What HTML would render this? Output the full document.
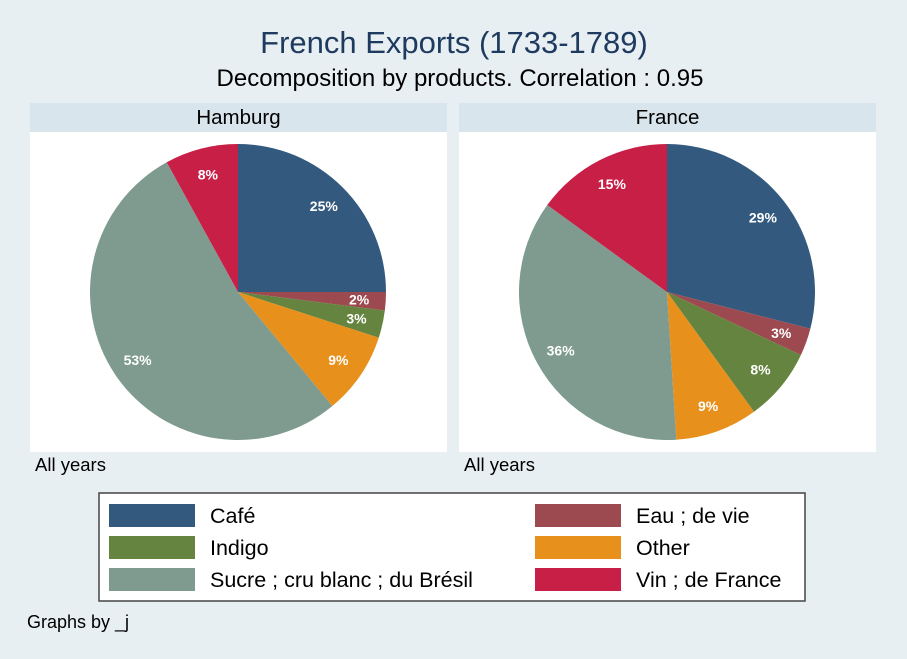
<!DOCTYPE html>
<html><head><meta charset="utf-8"><style>
body{margin:0;background:#e8eff2;}
svg{display:block;font-family:"Liberation Sans",Arial,sans-serif;}
</style></head><body>
<svg id="c" width="907" height="659" viewBox="0 0 907 659">
<rect width="907" height="659" fill="#e8eff2"/>
<text x="454" y="53" text-anchor="middle" font-size="31" fill="#1e3a5f">French Exports (1733-1789)</text>
<text x="460" y="86" text-anchor="middle" font-size="24" fill="#000">Decomposition by products. Correlation : 0.95</text>
<g id="panels"></g>
<g>
<rect x="99" y="493" width="706" height="108" fill="#fff" stroke="#444" stroke-width="1.5"/>
<g id="leg"></g>
</g>
<text x="27" y="628" font-size="18" fill="#000">Graphs by _j</text>
</svg>
<script>
const categories=["Café","Eau ; de vie","Indigo","Other","Sucre ; cru blanc ; du Brésil","Vin ; de France"];
const colors=["#335a7e","#9c4a50","#65843f","#e8901c","#7f9b8f","#c81f47"];
const panelNames=["Hamburg","France"];
const hamburgValues=[25,2,3,9,53,8];
const franceValues=[29,3,8,9,36,15];
const series=[hamburgValues,franceValues];
const NS="http://www.w3.org/2000/svg";
function mk(t,a,p){const e=document.createElementNS(NS,t);for(const k in a)e.setAttribute(k,a[k]);p.appendChild(e);return e;}
const panels=document.getElementById('panels');
const px=[30,459];
series.forEach((vals,pi)=>{
  const g=mk('g',{},panels);
  
  
  const x0=px[pi],w=417;
  const h=mk('rect',{x:x0,y:103,width:w,height:29,fill:'#d9e5ec'},g);
  
  
  const ht=mk('text',{x:x0+w/2,y:124,'text-anchor':'middle','font-size':20.5,fill:'#000'},g);ht.textContent=panelNames[pi];
  
  
  const pr=mk('rect',{x:x0,y:132,width:w,height:320,fill:'#fff'},g);
  
  
  const ay=mk('text',{x:x0+5,y:471,'font-size':18.5,fill:'#000'},g);ay.textContent='All years';
  
  
  const cx=x0+208,cy=292,r=148;
  const tot=vals.reduce((a,b)=>a+b,0);
  let a=0;
  vals.forEach((v,i)=>{
    const a0=a/tot*2*Math.PI,a1=(a+v)/tot*2*Math.PI;a+=v;
    const p0=[cx+r*Math.sin(a0),cy-r*Math.cos(a0)],p1=[cx+r*Math.sin(a1),cy-r*Math.cos(a1)];
    const s=mk('path',{d:`M${cx},${cy}L${p0[0]},${p0[1]}A${r},${r} 0 ${a1-a0>Math.PI?1:0} 1 ${p1[0]},${p1[1]}Z`,fill:colors[i]},g);
    
    
    const m=(a0+a1)/2,lr=r*0.82;
    const t=mk('text',{x:cx+lr*Math.sin(m),y:cy-lr*Math.cos(m)+5,'text-anchor':'middle','font-size':14,'font-weight':'bold',fill:'#fff'},g);
    t.textContent=v+'%';
    
    
  });
});
const leg=document.getElementById('leg');
categories.forEach((c,i)=>{
  const col=i%2,row=Math.floor(i/2);
  const sx=col?535:109,y=504+row*32;
  const r=mk('rect',{x:sx,y:y,width:86,height:23,fill:colors[i]},leg);
  
  
  const t=mk('text',{x:sx+101,y:y+19,'font-size':21.5,fill:'#000'},leg);t.textContent=c;
  
  
});
</script>
</body></html>
